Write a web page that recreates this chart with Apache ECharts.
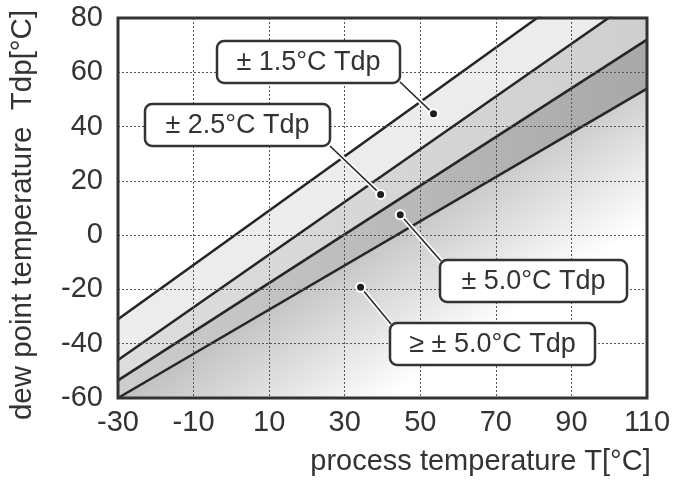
<!DOCTYPE html>
<html><head><meta charset="utf-8">
<script src="https://cdn.jsdelivr.net/npm/echarts@6/dist/echarts.min.js"></script>
<style>html,body{margin:0;padding:0;background:#fff}#c{width:678px;height:481px}</style>
</head><body><div id="c"></div>
<script>
// axis ranges / ticks
const xMin = -30, xMax = 110, xStep = 20;
const yMin = -60, yMax = 80, yStep = 20;
// boundary lines (process temperature T, dew point Tdp)
const lineA = [[-30, -31], [80.9, 80], [110, 109]];      // ±1.5 / ±2.5 boundary
const lineB = [[-30, -46], [99.8, 80], [110, 89.9]];     // ±2.5 / ±5.0 boundary
const lineC = [[-30, -53.5], [110, 72]];                 // ±5.0 boundary
const lineD = [[-30, -60], [110, 54]];                   // ≥±5.0 boundary
// annotation labels and their pointer dots
const labelTexts = ['± 1.5°C Tdp', '± 2.5°C Tdp', '± 5.0°C Tdp', '≥ ± 5.0°C Tdp'];
const dotX = [53.5, 39.5, 44.7, 34.2];
const dotY = [44.7, 15, 7.5, -19.2];
const xName = 'process temperature T[°C]';
const yName = 'dew point temperature  Tdp[°C]';

const FONT = "'Liberation Sans Narrow','Arial Narrow','Liberation Sans',Arial,sans-serif";
const chart = echarts.init(document.getElementById('c'), null, {renderer: 'canvas'});

function lineSeries(data, fill) {
  return {
    type: 'line', data: data, symbol: 'none', clip: true, z: 2,
    lineStyle: {color: '#262626', width: 2.6},
    areaStyle: {origin: 'start', color: fill, opacity: 1},
    silent: true
  };
}
const G = echarts.graphic;
const option = {
  animation: false,
  backgroundColor: '#fff',
  grid: {left: 116, top: 18, right: 31, bottom: 78, containLabel: false},
  xAxis: {
    type: 'value', min: xMin, max: xMax, interval: xStep, z: 3,
    name: xName, nameLocation: 'middle', nameGap: 49,
    nameTextStyle: {fontFamily: FONT, fontSize: 29, color: '#333', padding: [0, 0, 0, 196]},
    axisLine: {show: false}, axisTick: {show: false},
    axisLabel: {fontFamily: FONT, fontSize: 29, color: '#333', margin: 10},
    splitLine: {show: true, lineStyle: {color: '#555', width: 1, type: [2, 2]}}
  },
  yAxis: {
    type: 'value', min: yMin, max: yMax, interval: yStep, z: 3,
    name: yName, nameLocation: 'middle', nameRotate: 90, nameGap: 80,
    nameTextStyle: {fontFamily: FONT, fontSize: 29.5, color: '#333', padding: [0, 14, 0, 0]},
    axisLine: {show: false}, axisTick: {show: false},
    axisLabel: {fontFamily: FONT, fontSize: 29, color: '#333', margin: 15},
    splitLine: {show: true, lineStyle: {color: '#555', width: 1, type: [2, 2]}}
  },
  series: [
    lineSeries(lineA, '#ececec'),
    lineSeries(lineB, new G.LinearGradient(0, 0, 1, 0, [{offset: 0, color: '#dddddd'}, {offset: 1, color: '#cfcfcf'}])),
    lineSeries(lineC, new G.LinearGradient(0, 0, 1, 0, [{offset: 0, color: '#cdcdcd'}, {offset: 1, color: '#a8a8a8'}])),
    lineSeries(lineD, new G.LinearGradient(0.133, 0.339, 0.428, 1.093, [{offset: 0, color: '#8a8a8a'}, {offset: 0.5, color: '#c4c4c4'}, {offset: 1, color: '#ffffff'}])),
    {
      type: 'scatter', z: 200, silent: true,
      data: dotX.map((x, i) => [x, dotY[i]]),
      symbol: 'circle', symbolSize: 9,
      itemStyle: {color: '#1e1e1e', borderColor: '#fff', borderWidth: 2, opacity: 1}
    }
  ]
};
chart.setOption(option);

// label boxes (layout in pixels) and the corner the leader leaves from
const boxes = [
  {x: 217, y: 41, w: 183, h: 42, cx: 400, cy: 82},
  {x: 145, y: 104, w: 185, h: 42, cx: 330, cy: 146},
  {x: 440, y: 260, w: 187, h: 42, cx: 441, cy: 261},
  {x: 390, y: 323, w: 205, h: 42, cx: 391, cy: 324}
];
const gr = [];
const p0 = chart.convertToPixel({gridIndex: 0}, [xMin, yMax]);
const p1 = chart.convertToPixel({gridIndex: 0}, [xMax, yMin]);
boxes.forEach((b, i) => {
  const d = chart.convertToPixel({seriesIndex: 4}, [dotX[i], dotY[i]]);
  gr.push({type: 'line', z: 100, silent: true, shape: {x1: b.cx, y1: b.cy, x2: d[0], y2: d[1]}, style: {stroke: '#fff', lineWidth: 5}});
  gr.push({type: 'line', z: 101, silent: true, shape: {x1: b.cx, y1: b.cy, x2: d[0], y2: d[1]}, style: {stroke: '#2a2a2a', lineWidth: 1.6}});
  gr.push({type: 'rect', z: 102, silent: true, shape: {x: b.x, y: b.y, width: b.w, height: b.h, r: 7},
    style: {fill: '#fff', stroke: '#333', lineWidth: 2.5}});
  gr.push({type: 'text', z: 103, silent: true, x: b.x + b.w / 2, y: b.y + b.h / 2 + 1,
    style: {text: labelTexts[i], fontFamily: FONT, fontSize: 27, fill: '#333', align: 'center', verticalAlign: 'middle'}});
});
gr.push({type: 'rect', z: 150, silent: true, shape: {x: p0[0], y: p0[1], width: p1[0] - p0[0], height: p1[1] - p0[1]},
  style: {fill: 'none', stroke: '#333', lineWidth: 3}});
chart.setOption({graphic: gr});
</script>
</body></html>
